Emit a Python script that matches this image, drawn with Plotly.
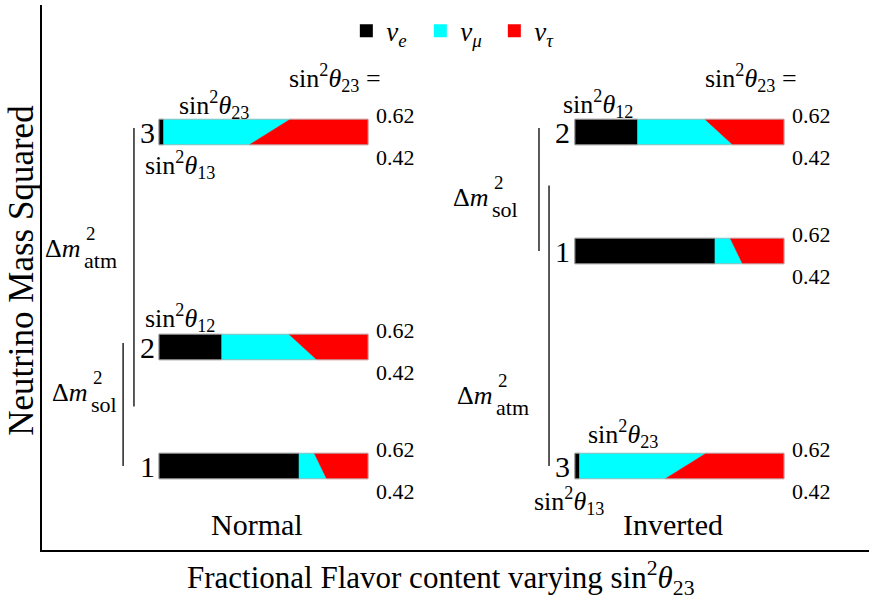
import plotly.graph_objects as go

# sin^2(theta_23) at the upper and lower edge of every bar
S23_TOP = 0.62
S23_BOTTOM = 0.42

# mass states and their flavour fractions |U_ai|^2
states = ["1", "2", "3"]
nu_e = [0.67, 0.30, 0.022]
nu_mu_top = [0.073, 0.322, 0.606]      # sin^2 theta_23 = 0.62
nu_mu_bottom = [0.132, 0.455, 0.411]   # sin^2 theta_23 = 0.42

# mass-squared levels of states 1, 2, 3 (arbitrary units)
normal_levels = [84, 203, 418]
inverted_levels = [299, 418, 84]

flavour_names = ["<i>ν</i><sub><i>e</i></sub>", "<i>ν</i><sub><i>μ</i></sub>", "<i>ν</i><sub><i>τ</i></sub>"]
flavour_colors = ["#000000", "#00FFFF", "#FF0000"]

FONT = "Liberation Serif"
HALF = 12.7            # half thickness of a bar
X_RANGE = [-0.56, 3.397]
Y_RANGE = [0, 545]

orderings = [
    dict(name="Normal", x0=0.0, levels=normal_levels,
         sol_x=-0.172, atm_x=-0.12),
    dict(name="Inverted", x0=1.99, levels=inverted_levels,
         sol_x=-0.172, atm_x=-0.124),
]

fig = go.Figure()
annotations = []


def text(x, y, s, size=22, xanchor="center", yanchor="middle", ref="x", angle=0):
    annotations.append(dict(x=x, y=y, xref=ref, yref=ref.replace("x", "y"), text=s,
                            showarrow=False, textangle=angle,
                            font=dict(family=FONT, size=size, color="black"),
                            xanchor=xanchor, yanchor=yanchor))


def sin2(idx):
    return f"sin<sup>2</sup><i>θ</i><sub>{idx}</sub>"


def delta_m(x, y, sub):
    text(x, y, "Δ<i>m</i>", 26, xanchor="right")
    text(x + 0.006, y + 15, "2", 19, xanchor="left")
    text(x - 0.004, y - 12, sub, 22, xanchor="left")


for o in orderings:
    x0 = o["x0"]
    lv = o["levels"]
    for i, st in enumerate(states):
        top, bot = lv[i] + HALF, lv[i] - HALF
        e = nu_e[i]
        mt = e + nu_mu_top[i]
        mb = e + nu_mu_bottom[i]
        polys = [
            ([0, e, e, 0], flavour_colors[0]),
            ([e, mt, mb, e], flavour_colors[1]),
            ([mt, 1, 1, mb], flavour_colors[2]),
        ]
        for xs, col in polys:
            fig.add_trace(go.Scatter(
                x=[x0 + v for v in xs] + [x0 + xs[0]],
                y=[top, top, bot, bot, top],
                mode="lines", fill="toself", fillcolor=col,
                line=dict(color=col, width=0.6),
                hoverinfo="skip", showlegend=False))
        # thin outline of the bar
        fig.add_trace(go.Scatter(
            x=[x0, x0 + 1, x0 + 1, x0, x0], y=[top, top, bot, bot, top],
            mode="lines", line=dict(color="#b0b0b0", width=0.8),
            hoverinfo="skip", showlegend=False))
        # state number and sin^2 theta_23 values at the bar's edges
        text(x0 - 0.012, lv[i], st, 30, xanchor="right")
        text(x0 + 1.03, lv[i] + 17, f"{S23_TOP:.2f}", 22, xanchor="left")
        text(x0 + 1.03, lv[i] - 25, f"{S23_BOTTOM:.2f}", 22, xanchor="left")

    # splitting brackets
    l1, l2, l3 = lv
    if o["name"] == "Normal":
        sol = (l2 + 4, l1)
        atm = (l3 + 4, (l1 + l2) / 2)
    else:
        sol = (l2 + 4, l1)
        atm = ((l1 + l2) / 2 + 6, l3)
    for xx, (ya, yb) in ((o["sol_x"], sol), (o["atm_x"], atm)):
        fig.add_trace(go.Scatter(x=[x0 + xx, x0 + xx], y=[ya, yb], mode="lines",
                                 line=dict(color="black", width=1.3),
                                 hoverinfo="skip", showlegend=False))

    text(x0 + 0.47, 26, o["name"], 30)
    text(x0 + 0.84, 472, sin2(23) + " =", 26)

# mixing-angle labels and mass splittings
text(0.265, 445, sin2(23), 26)
text(0.10, 385, sin2(13), 26)
text(0.10, 232, sin2(12), 26)
text(1.99 + 0.11, 446, sin2(12), 26)
text(1.99 + 0.23, 116, sin2(23), 26)
text(1.99 - 0.03, 49, sin2(13), 26)

delta_m(-0.364, 302, "atm")
delta_m(-0.33, 158, "sol")
delta_m(1.99 - 0.402, 353, "sol")
delta_m(1.99 - 0.383, 155, "atm")

# axis titles
text(0.4825, -0.0514, "Fractional Flavor content varying " + sin2(23), 31, ref="paper")
text(-0.0242, 0.514, "Neutrino Mass Squared", 35, ref="paper", angle=-90)

# legend entries
for name, col in zip(flavour_names, flavour_colors):
    fig.add_trace(go.Scatter(x=[None], y=[None], mode="markers", name=name,
                             marker=dict(symbol="square", size=13, color=col)))

fig.update_layout(
    width=869, height=599,
    margin=dict(l=42, r=0, t=5, b=49),
    paper_bgcolor="white", plot_bgcolor="white",
    font=dict(family=FONT, size=22, color="black"),
    annotations=annotations,
    legend=dict(orientation="h", x=0.368, xanchor="left", y=0.952, yanchor="middle",
                font=dict(size=27), itemwidth=30, entrywidth=29, entrywidthmode="pixels",
                bgcolor="rgba(0,0,0,0)"),
    xaxis=dict(range=X_RANGE, showgrid=False, zeroline=False, showticklabels=False,
               ticks="", showline=True, linecolor="black", linewidth=1.5, mirror=False),
    yaxis=dict(range=Y_RANGE, showgrid=False, zeroline=False, showticklabels=False,
               ticks="", showline=True, linecolor="black", linewidth=1.5),
)

fig.write_html("out.html")
